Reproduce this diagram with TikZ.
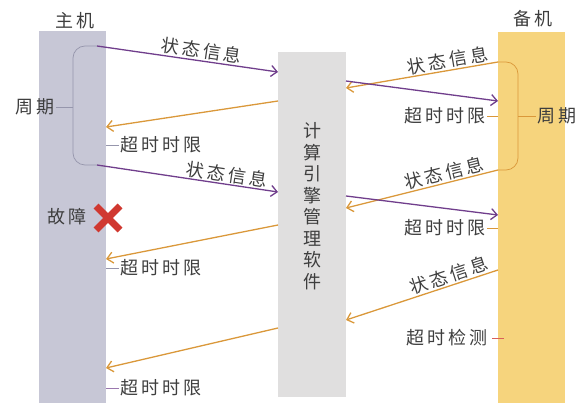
\documentclass[tikz,border=0pt]{standalone}
\usepackage{fontspec}
\setmainfont{Noto Sans CJK SC}[LetterSpace=17]
\usetikzlibrary{arrows.meta,positioning}

\definecolor{hostgray}{RGB}{199,199,214}
\definecolor{enginegray}{RGB}{224,223,223}
\definecolor{backgold}{RGB}{246,212,125}
\definecolor{msgpurple}{RGB}{112,62,140}
\definecolor{ackorange}{RGB}{218,152,58}
\definecolor{txtgray}{RGB}{62,62,62}
\definecolor{bracegray}{RGB}{150,150,172}
\definecolor{crossred}{RGB}{208,56,48}

\begin{document}
\begin{tikzpicture}[
    x=1pt, y=-1pt,
    bar/.style={rectangle, draw=none, inner sep=0pt, anchor=north west},
    lbl/.style={font=\fontsize{18}{18}\selectfont, text=txtgray, inner sep=1pt},
    msg/.style={-{Straight Barb[length=6pt,width=11pt]}, line width=1.3pt, draw=msgpurple},
    ack/.style={-{Straight Barb[length=6pt,width=11pt]}, line width=1.3pt, draw=ackorange},
    brace/.style={line width=0.7pt, rounded corners=12pt},
    tick/.style={line width=0.8pt}
]
\useasboundingbox (0,0) rectangle (586,403);

% Hosts
\node[bar, fill=hostgray, minimum width=67pt, minimum height=372pt] (host) at (39,31) {};
\node[bar, fill=enginegray, minimum width=68pt, minimum height=345pt] (engine) at (278,52) {};
\node[bar, fill=backgold, minimum width=67pt, minimum height=371pt] (backup) at (498,32) {};

\node[lbl] (hostname) at (75,21) {主机};
\node[lbl] (backname) at (533,19) {备机};
\node[lbl, align=center, font=\fontsize{18}{21.5}\selectfont] (enginename) at (312,206)
    {计\\算\\引\\擎\\管\\理\\软\\件};

% Arrow ends
\coordinate (h1) at (97,46);   \coordinate (e1) at (278,72);
\coordinate (e2) at (278,101); \coordinate (h2) at (106,127);
\coordinate (h3) at (97,165);  \coordinate (e3) at (278,192);
\coordinate (e4) at (278,225); \coordinate (h4) at (106,259);
\coordinate (e5) at (278,328); \coordinate (h5) at (106,368);
\coordinate (b1) at (498,62);  \coordinate (e6) at (346,88);
\coordinate (e7) at (346,81);  \coordinate (b2) at (498,101);
\coordinate (b3) at (498,170); \coordinate (e8) at (346,208);
\coordinate (e9) at (346,196); \coordinate (b4) at (498,215);
\coordinate (b5) at (498,270); \coordinate (e10) at (346,320);

\draw[msg] (h1) -- node[lbl, sloped, above, pos=0.57] (s1) {状态信息} (e1);
\draw[ack] (e2) -- (h2);
\draw[msg] (h3) -- node[lbl, sloped, above, pos=0.71] (s2) {状态信息} (e3);
\draw[ack] (e4) -- (h4);
\draw[ack] (e5) -- (h5);
\draw[ack] (b1) -- node[lbl, sloped, above, pos=0.32] (s3) {状态信息} (e6);
\draw[msg] (e7) -- (b2);
\draw[ack] (b3) -- node[lbl, sloped, above, pos=0.34] (s4) {状态信息} (e8);
\draw[msg] (e9) -- (b4);
\draw[ack] (b5) -- node[lbl, sloped, above, pos=0.30] (s5) {状态信息} (e10);

% Periods
\coordinate (lb) at (73,107);
\coordinate (rb) at (518,116);
\draw[brace, draw=bracegray] (h1) -| (lb) |- (h3);
\draw[brace, draw=ackorange] (b1) -| (rb) |- (b3);
\node[lbl, anchor=east] (lperiod) at (56,107) {周期};
\node[lbl, anchor=west] (rperiod) at (536,116) {周期};
\draw[tick, draw=bracegray] (lb) -- (lperiod.east);
\draw[tick, draw=ackorange] (rb) -- (rperiod.west);

% Timeouts
\node[lbl, anchor=west] (lt1) at (119,145) {超时时限};
\node[lbl, anchor=west] (lt2) at (119,268) {超时时限};
\node[lbl, anchor=west] (lt3) at (119,388) {超时时限};
\draw[tick, draw=bracegray] (lt1.west) -- (lt1.west -| host.east);
\draw[tick, draw=bracegray] (lt2.west) -- (lt2.west -| host.east);
\draw[tick, draw=msgpurple!70] (lt3.west) -- (lt3.west -| host.east);
\node[lbl, anchor=east] (rt1) at (487,116) {超时时限};
\node[lbl, anchor=east] (rt2) at (487,228) {超时时限};
\node[lbl, anchor=east] (rcheck) at (489,338) {超时检测};
\draw[tick, draw=ackorange] (rt1.east) -- (rt1.east -| backup.west);
\draw[tick, draw=ackorange] (rt2.east) -- (rt2.east -| backup.west);
\draw[tick, draw=crossred!80] ([xshift=3pt]rcheck.east) -- ([xshift=6pt]rcheck.east -| backup.west);

% Fault
\node[lbl] (fault) at (67,217) {故障};
\coordinate (x) at (108,218);
\draw[line width=7pt, draw=crossred] ([shift={(-12,-12)}]x) -- ([shift={(12,12)}]x);
\draw[line width=7pt, draw=crossred] ([shift={(-12,12)}]x) -- ([shift={(12,-12)}]x);

\end{tikzpicture}
\end{document}
